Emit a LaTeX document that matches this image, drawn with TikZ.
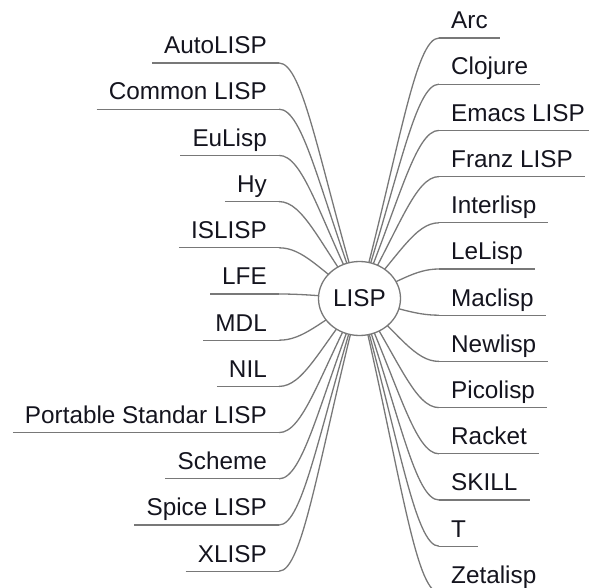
\documentclass[tikz,border=0pt]{standalone}
\usepackage{fontspec}
\setmainfont{Liberation Sans}
\usetikzlibrary{calc,shapes.geometric,backgrounds}

\definecolor{linegray}{RGB}{120,120,120}
\definecolor{txt}{RGB}{20,20,30}

\tikzset{
  leaf/.style={inner xsep=12pt, inner ysep=0pt, text height=17pt, text depth=9pt,
    text=txt, font=\fontsize{24.3}{28}\selectfont},
  lleaf/.style={leaf, anchor=south east},
  rleaf/.style={leaf, anchor=south west},
  branch/.style={draw=linegray, line width=1.3pt},
}

\begin{document}
\begin{tikzpicture}[x=1pt,y=-1pt]
    \useasboundingbox (0,0) rectangle (589,588);
    \clip (0,0) rectangle (589,588);

    % root
    \node[ellipse, draw=linegray, line width=1.3pt, fill=white, inner sep=0pt,
      minimum width=82pt, minimum height=74pt, text=txt,
      font=\fontsize{24.3}{28}\selectfont] (lisp) at (359.5,298.5) {LISP};

    % left dialects
    \node[lleaf] (autolisp)  at (279,63.0)  {AutoLISP};
    \node[lleaf] (commonlisp) at (279,109.2) {Common LISP};
    \node[lleaf] (eulisp)    at (279,155.4) {EuLisp};
    \node[lleaf] (hy)        at (279,201.6) {Hy};
    \node[lleaf] (islisp)    at (279,247.8) {ISLISP};
    \node[lleaf] (lfe)       at (279,294.0) {LFE};
    \node[lleaf] (mdl)       at (279,340.2) {MDL};
    \node[lleaf] (nil)       at (279,386.4) {NIL};
    \node[lleaf] (psl)       at (279,432.6) {Portable Standar LISP};
    \node[lleaf] (scheme)    at (279,478.8) {Scheme};
    \node[lleaf] (spicelisp) at (279,525.0) {Spice LISP};
    \node[lleaf] (xlisp)     at (279,571.2) {XLISP};

    % right dialects
    \node[rleaf] (arc)       at (439,38.0)  {Arc};
    \node[rleaf] (clojure)   at (439,84.2)  {Clojure};
    \node[rleaf] (emacslisp) at (439,130.4) {Emacs LISP};
    \node[rleaf] (franzlisp) at (439,176.6) {Franz LISP};
    \node[rleaf] (interlisp) at (439,222.8) {Interlisp};
    \node[rleaf] (lelisp)    at (439,269.0) {LeLisp};
    \node[rleaf] (maclisp)   at (439,315.2) {Maclisp};
    \node[rleaf] (newlisp)   at (439,361.4) {Newlisp};
    \node[rleaf] (picolisp)  at (439,407.6) {Picolisp};
    \node[rleaf] (racket)    at (439,453.8) {Racket};
    \node[rleaf] (skill)     at (439,500.0) {SKILL};
    \node[rleaf] (tlisp)     at (439,546.2) {T};
    \node[rleaf] (zetalisp)  at (439,592.4) {Zetalisp};

    % underlines and branches
    \begin{pgfonlayer}{background}
    \foreach \b in {autolisp,commonlisp,eulisp,hy,islisp,lfe,mdl,nil,psl,scheme,spicelisp,xlisp}{
      \draw[branch] (\b.south west) -- (\b.south east);
      \draw[branch] let \p1=(lisp.center), \p2=(\b.south east) in
        (\p1) .. controls +({0.5*(\x2-\x1)},{0.57*(\y2-\y1)}) and +({-0.3*(\x2-\x1)},0pt) .. (\p2);
    }
    \foreach \b in {arc,clojure,emacslisp,franzlisp,interlisp,lelisp,maclisp,newlisp,picolisp,racket,skill,tlisp,zetalisp}{
      \draw[branch] (\b.south west) -- (\b.south east);
      \draw[branch] let \p1=(lisp.center), \p2=(\b.south west) in
        (\p1) .. controls +({0.5*(\x2-\x1)},{0.57*(\y2-\y1)}) and +({-0.3*(\x2-\x1)},0pt) .. (\p2);
    }
    \end{pgfonlayer}
\end{tikzpicture}
\end{document}
